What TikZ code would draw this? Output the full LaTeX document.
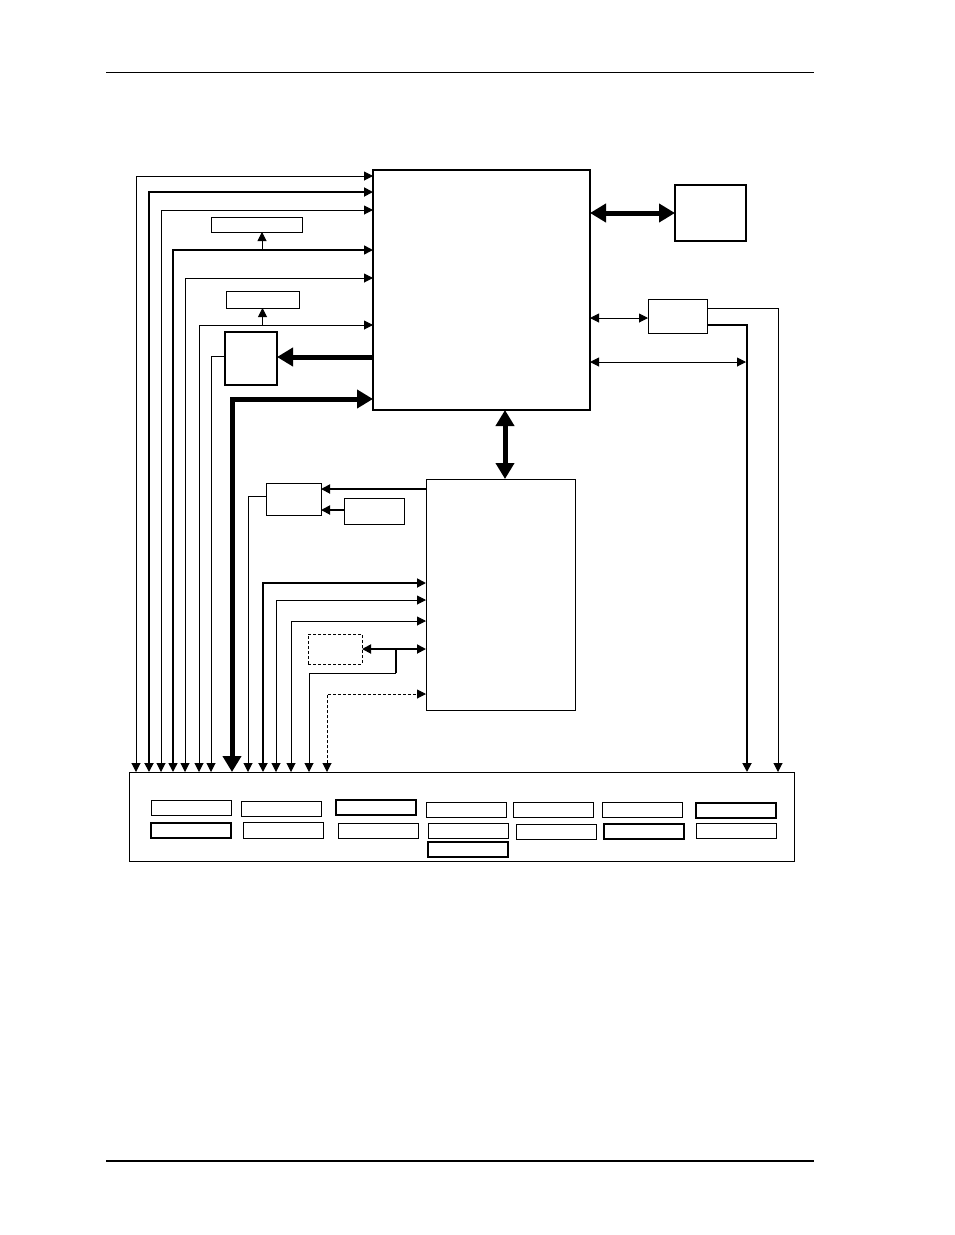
\documentclass[tikz,border=0pt]{standalone}
\usetikzlibrary{arrows.meta}
\newcommand\rbox[6][]{\node[box,#1,minimum width={#5-#3},minimum height={#6-#4}] (#2) at ({(#3+#5)/2},{(#4+#6)/2}) {};}
\tikzset{
  box/.style={draw, line width=1pt, inner sep=0pt, outer sep=0pt},
  ln/.style={line width=1pt},
  med/.style={line width=1.8pt},
  thk/.style={line width=5pt},
  ta/.style={-{Triangle[length=9pt,width=9pt]}},
  tab/.style={{Triangle[length=9pt,width=9pt]}-{Triangle[length=9pt,width=9pt]}},
  Ta/.style={-{Triangle[length=16pt,width=18pt]}},
  Tab/.style={{Triangle[length=16pt,width=18pt]}-{Triangle[length=16pt,width=18pt]}},
  dsh/.style={dash pattern=on 3pt off 2pt}
}
\begin{document}
\begin{tikzpicture}[x=1pt,y=-1pt]
\useasboundingbox (0,0) rectangle (954,1235);
% page rules
\draw[line width=1pt] (106,72) -- (814,72);
\draw[line width=1.6pt] (106,1161) -- (814,1161);
% main blocks
\rbox[line width=1.2pt]{main}{373}{170}{590}{410}
\rbox[line width=1.2pt]{mem}{675}{185}{746}{241}
\rbox{rt}{648}{299}{707}{333}
\rbox{sa}{211}{217}{302}{232}
\rbox{sb}{226}{291}{299}{308}
\rbox[line width=1.2pt]{bc}{225}{332}{277}{385}
\rbox{ctrl}{426}{479}{575}{710}
\rbox{ba}{266}{483}{321}{515}
\rbox{bb}{344}{498}{404}{524}
\rbox[dsh]{db}{308}{634}{362}{664}
\rbox{bot}{129}{772}{794}{861}
% small boxes in bottom block
\rbox{p1}{151}{800}{231}{815}
\rbox{p2}{241}{801}{321}{816}
\rbox[line width=1.1pt]{p3}{336}{800}{416}{815}
\rbox{p4}{426}{802}{506}{817}
\rbox{p5}{513}{802}{593}{817}
\rbox{p6}{602}{802}{682}{817}
\rbox[line width=1.1pt]{p7}{696}{803}{776}{818}
\rbox[line width=1.1pt]{q1}{151}{823}{231}{838}
\rbox{q2}{243}{822}{323}{838}
\rbox{q3}{338}{823}{418}{838}
\rbox{q4}{428}{823}{508}{838}
\rbox{q5}{516}{824}{596}{839}
\rbox[line width=1.1pt]{q6}{604}{824}{684}{839}
\rbox{q7}{696}{823}{776}{838}
\rbox[line width=1.1pt]{r4}{428}{842}{508}{857}
% left signal lines: bottom block <-> main
\draw[ln,tab] (bot.north -| 136,0) |- (main.west |- 0,176);
\draw[med,tab] (bot.north -| 149,0) |- (main.west |- 0,192);
\draw[ln,tab] (bot.north -| 161,0) |- (main.west |- 0,210);
\draw[line width=1.6pt,tab] (bot.north -| 173,0) |- (main.west |- 0,250);
\draw[ln,ta] (262,250) -- (sa.south -| 262,0);
\draw[ln,tab] (bot.north -| 185,0) |- (main.west |- 0,278);
\draw[ln,tab] (bot.north -| 199,0) |- (main.west |- 0,325);
\draw[ln,ta] (sb.south |- 0,325) -- (sb.south);
\draw[ln,ta] (bc.west |- 0,356) -| (bot.north -| 211,0);
\draw[thk,Tab] (bot.north -| 232,0) |- (main.west |- 0,399);
\draw[thk,Ta] (main.west |- 0,357) -- (bc.east |- 0,357);
% right side of main
\draw[thk,Tab] (main.east |- mem.west) -- (mem.west);
\draw[ln,tab] (main.east |- 0,318) -- (rt.west |- 0,318);
\draw[ln,ta] (rt.east |- 0,308) -| (bot.north -| 778,0);
\draw[med,ta] (rt.east |- 0,325) -| (bot.north -| 747,0);
\draw[ln,tab] (main.east |- 0,362) -- (746,362);
% main <-> controller
\draw[thk,Tab] (main.south -| 505,0) -- (ctrl.north -| 505,0);
% controller region
\draw[med,ta] (ctrl.west |- 0,489) -- (ba.east |- 0,489);
\draw[med,ta] (bb.west |- 0,510) -- (ba.east |- 0,510);
\draw[ln,ta] (ba.west |- 0,496) -| (bot.north -| 248,0);
\draw[med,tab] (bot.north -| 263,0) |- (ctrl.west |- 0,583);
\draw[ln,tab] (bot.north -| 276,0) |- (ctrl.west |- 0,600);
\draw[ln,tab] (bot.north -| 291,0) |- (ctrl.west |- 0,621);
\draw[med,tab] (db.east |- 0,649) -- (ctrl.west |- 0,649);
\coordinate (jn) at (396,673);
\draw[med] (396,649) -- (jn);
\draw[ln,ta] (jn) -| (bot.north -| 309,0);
\draw[ln,dsh,tab] (bot.north -| 327,0) |- (ctrl.west |- 0,694);
\end{tikzpicture}
\end{document}
